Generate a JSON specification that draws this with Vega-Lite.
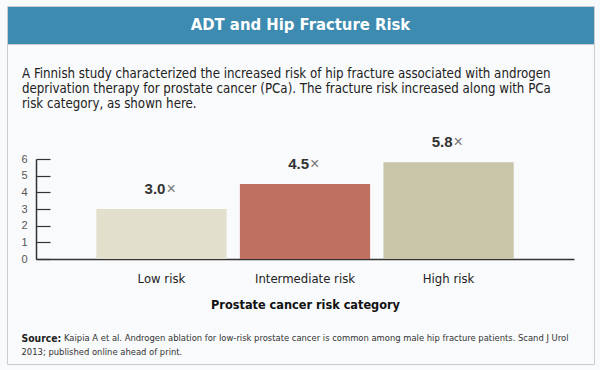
{
  "$schema": "https://vega.github.io/schema/vega-lite/v6.json",
  "background": "#f9fafb",
  "padding": {"left": 6, "top": 5, "right": 7, "bottom": 7},
  "spacing": 0,
  "bounds": "flush",
  "config": {"view": {"stroke": null}, "font": "Liberation Sans"},
  "title": {
    "text": "Source:",
    "subtitle": "2013; published online ahead of print.",
    "orient": "bottom",
    "anchor": "start",
    "frame": "bounds",
    "dx": 15,
    "offset": -30.5,
    "font": "DejaVu Sans Condensed, DejaVu Sans, sans-serif",
    "fontSize": 10.3,
    "fontWeight": "bold",
    "color": "#222222",
    "subtitleFont": "DejaVu Sans Condensed, DejaVu Sans, sans-serif",
    "subtitleFontSize": 9.35,
    "subtitleColor": "#333333",
    "subtitlePadding": 4
  },
  "vconcat": [
    {
      "width": 587,
      "height": 38,
      "view": {"fill": "#3d8bb0", "stroke": "#cccccc"},
      "title": {
        "text": [
          "A Finnish study characterized the increased risk of hip fracture associated with androgen",
          "deprivation therapy for prostate cancer (PCa). The fracture risk increased along with PCa",
          "risk category, as shown here."
        ],
        "orient": "bottom",
        "anchor": "start",
        "frame": "group",
        "dx": 15,
        "offset": 23.5,
        "font": "DejaVu Sans Condensed, DejaVu Sans, sans-serif",
        "fontSize": 13.2,
        "fontWeight": "normal",
        "color": "#222222",
        "lineHeight": 15.2
      },
      "data": {"values": [{"heading": "ADT and Hip Fracture Risk"}]},
      "mark": {"type": "text", "font": "DejaVu Sans Condensed, DejaVu Sans, sans-serif", "fontWeight": "bold", "fontSize": 16.5, "color": "#ffffff", "baseline": "middle", "align": "center"},
      "encoding": {"text": {"field": "heading"}}
    },
    {
      "width": 587,
      "height": 320,
      "view": {"fill": null, "stroke": "#cccccc"},
      "title": {
        "text": "Kaipia A et al. Androgen ablation for low-risk prostate cancer is common among male hip fracture patients. Scand J Urol",
        "orient": "bottom",
        "anchor": "start",
        "frame": "group",
        "dx": 57,
        "offset": -29.7,
        "font": "DejaVu Sans Condensed, DejaVu Sans, sans-serif",
        "fontSize": 9.35,
        "fontWeight": "normal",
        "color": "#333333"
      },
      "data": {
        "values": [
          {"category": "Low risk", "risk": 3.0},
          {"category": "Intermediate risk", "risk": 4.5},
          {"category": "High risk", "risk": 5.8}
        ]
      },
      "encoding": {
        "x": {
          "field": "category",
          "type": "nominal",
          "sort": null,
          "scale": {"range": [29, 567], "paddingInner": 0.093, "paddingOuter": 0.42},
          "axis": {
            "orient": "bottom",
            "offset": -105,
            "domainColor": "#333333",
            "domainWidth": 1.5,
            "ticks": false,
            "labelAngle": 0,
            "labelFont": "DejaVu Sans Condensed, DejaVu Sans, sans-serif",
            "labelFontSize": 13,
            "labelColor": "#222222",
            "labelPadding": 13,
            "title": "Prostate cancer risk category",
            "titleFont": "DejaVu Sans Condensed, DejaVu Sans, sans-serif",
            "titleFontSize": 12.6,
            "titleFontWeight": "bold",
            "titleColor": "#111111",
            "titlePadding": 13
          }
        },
        "y": {
          "field": "risk",
          "type": "quantitative",
          "scale": {"domain": [0, 6], "range": [215, 115], "nice": false},
          "axis": {
            "values": [0, 1, 2, 3, 4, 5, 6],
            "format": "d",
            "offset": -29,
            "grid": false,
            "title": null,
            "domainColor": "#333333",
            "domainWidth": 1.5,
            "tickColor": "#333333",
            "tickWidth": 1.2,
            "tickSize": -14,
            "labelColor": "#555555",
            "labelFontSize": 11,
            "labelPadding": 23
          }
        }
      },
      "layer": [
        {
          "mark": {"type": "bar"},
          "encoding": {
            "color": {
              "field": "category",
              "type": "nominal",
              "scale": {"domain": ["Low risk", "Intermediate risk", "High risk"], "range": ["#e3dfcd", "#c07060", "#c8c5a8"]},
              "legend": null
            }
          }
        },
        {
          "mark": {"type": "text", "align": "right", "baseline": "middle", "dx": 4, "dy": -20, "font": "Liberation Sans", "fontWeight": "bold", "fontSize": 15, "color": "#333333"},
          "encoding": {"text": {"field": "risk", "type": "quantitative", "format": ".1f"}}
        },
        {
          "mark": {"type": "text", "align": "left", "baseline": "middle", "dx": 5, "dy": -20, "font": "Liberation Sans", "fontSize": 16, "color": "#777777"},
          "encoding": {"text": {"value": "×"}}
        }
      ]
    }
  ]
}
